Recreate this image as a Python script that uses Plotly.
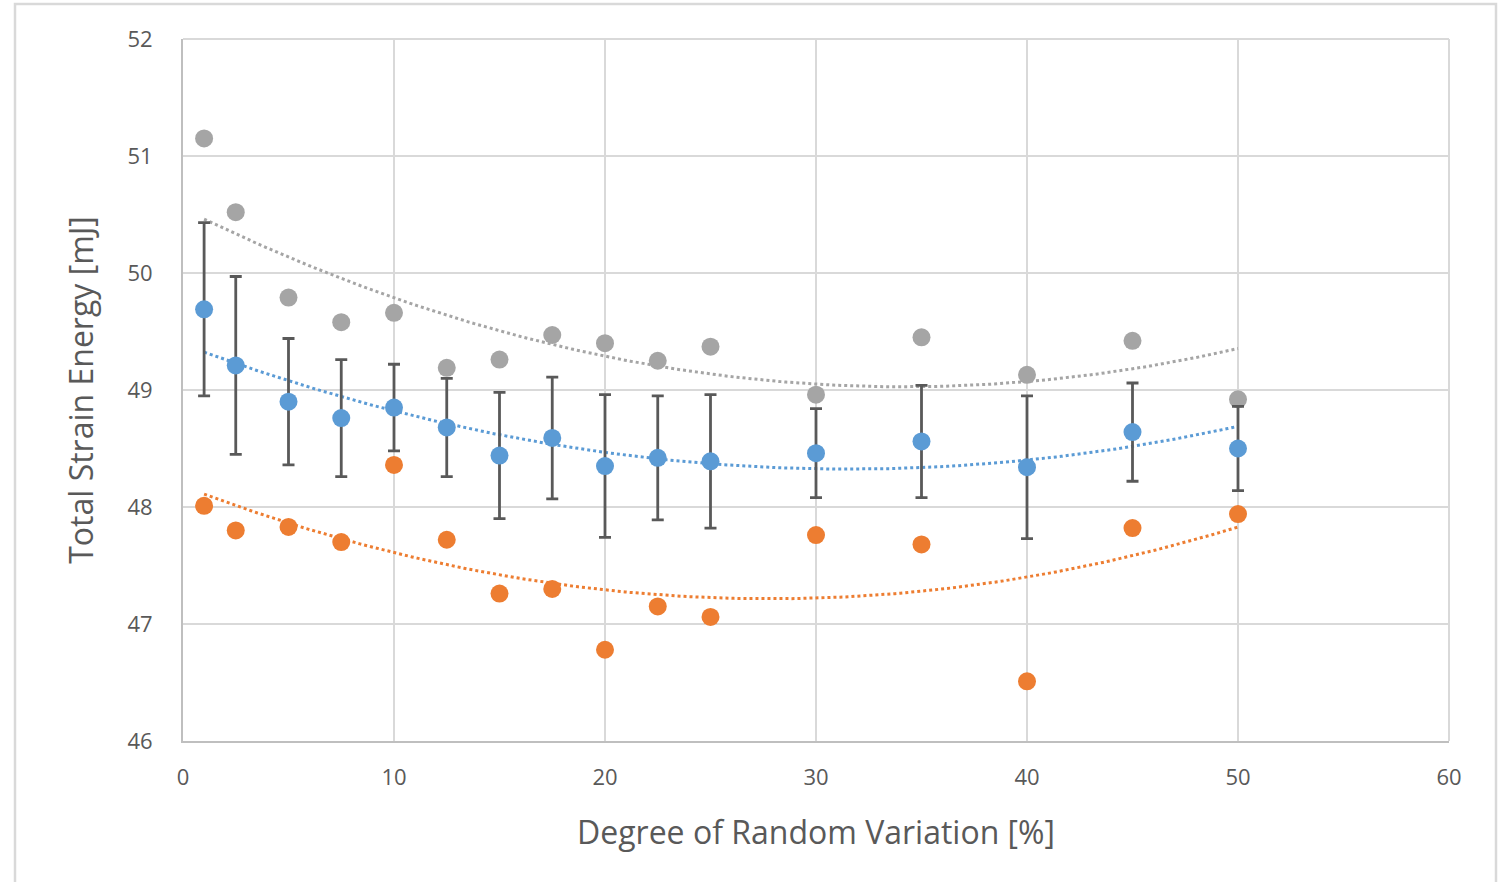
import numpy as np
import plotly.graph_objects as go

x_vals = [1, 2.5, 5, 7.5, 10, 12.5, 15, 17.5, 20, 22.5, 25, 30, 35, 40, 45, 50]
mean_vals = [49.69, 49.21, 48.90, 48.76, 48.85, 48.68, 48.44, 48.59, 48.35, 48.42, 48.39, 48.46, 48.56, 48.34, 48.64, 48.50]
err_vals = [0.74, 0.76, 0.54, 0.50, 0.37, 0.42, 0.54, 0.52, 0.61, 0.53, 0.57, 0.38, 0.48, 0.61, 0.42, 0.36]
max_vals = [51.15, 50.52, 49.79, 49.58, 49.66, 49.19, 49.26, 49.47, 49.40, 49.25, 49.37, 48.96, 49.45, 49.13, 49.42, 48.92]
min_vals = [48.01, 47.80, 47.83, 47.70, 48.36, 47.72, 47.26, 47.30, 46.78, 47.15, 47.06, 47.76, 47.68, 46.51, 47.82, 47.94]

x_ticks = [0, 10, 20, 30, 40, 50, 60]
y_ticks = [46, 47, 48, 49, 50, 51, 52]

BLUE = "#5B9BD5"
ORANGE = "#ED7D31"
GRAY = "#A5A5A5"
TXT = "#595959"
FONT = "Open Sans, Liberation Sans, sans-serif"

fig = go.Figure()

xt = np.linspace(min(x_vals), max(x_vals), 200)
for ys, col in [(max_vals, GRAY), (min_vals, ORANGE), (mean_vals, BLUE)]:
    c = np.polyfit(x_vals, ys, 2)
    fig.add_trace(go.Scatter(x=xt, y=np.polyval(c, xt), mode="lines",
                             line=dict(color=col, width=3, dash="dot"),
                             hoverinfo="skip", showlegend=False))

fig.add_trace(go.Scatter(x=x_vals, y=max_vals, mode="markers",
                         marker=dict(color=GRAY, size=18), showlegend=False))
fig.add_trace(go.Scatter(x=x_vals, y=min_vals, mode="markers",
                         marker=dict(color=ORANGE, size=18), showlegend=False))
fig.add_trace(go.Scatter(x=x_vals, y=mean_vals, mode="markers",
                         marker=dict(color=BLUE, size=18),
                         error_y=dict(type="data", array=err_vals, visible=True,
                                      color="#595959", thickness=2.8, width=6),
                         showlegend=False))

L, R, T, B = 183, 57, 39, 141
W, H = 1506, 882
pw, ph = W - L - R, H - T - B
# outer chart border
fig.add_shape(type="rect", xref="paper", yref="paper",
              x0=(15 - L) / pw, x1=(1496 - L) / pw,
              y0=(T + ph - 900) / ph, y1=1 + (T - 4) / ph,
              line=dict(color="#D9D9D9", width=2.5), layer="below")
# top and right frame lines of plot area
fig.add_shape(type="line", xref="paper", yref="paper", x0=0, x1=1, y0=1, y1=1,
              line=dict(color="#D9D9D9", width=2), layer="below")
fig.add_shape(type="line", xref="paper", yref="paper", x0=1, x1=1, y0=0, y1=1,
              line=dict(color="#D9D9D9", width=2), layer="below")

fig.update_layout(
    width=W, height=H,
    margin=dict(l=L, r=R, t=T, b=B),
    paper_bgcolor="white", plot_bgcolor="white",
    font=dict(family=FONT, color=TXT),
    xaxis=dict(range=[0, 60], tickvals=x_ticks, showgrid=True, gridcolor="#D9D9D9", gridwidth=2,
               showline=True, linecolor="#BFBFBF", linewidth=2, zeroline=False,
               tickfont=dict(size=22, color=TXT), ticks="", ticklabelstandoff=16,
               title=dict(text="Degree of Random Variation [%]", font=dict(size=32, color=TXT), standoff=31)),
    yaxis=dict(range=[46, 52], tickvals=y_ticks, showgrid=True, gridcolor="#D9D9D9", gridwidth=2,
               showline=True, linecolor="#BFBFBF", linewidth=2, zeroline=False,
               tickfont=dict(size=22, color=TXT), ticks="", ticklabelstandoff=24,
               title=dict(text="Total Strain Energy [mJ]", font=dict(size=32, color=TXT), standoff=24)),
)

fig.write_html("out.html")
